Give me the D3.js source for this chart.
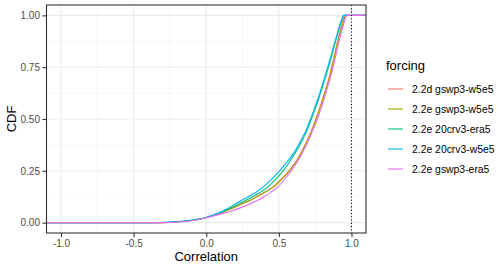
<!DOCTYPE html>
<html><head><meta charset="utf-8">
<script src="https://cdn.jsdelivr.net/npm/d3@7"></script>
<style>body{margin:0;background:#fff}svg{display:block;font-family:"Liberation Sans",Arial,sans-serif}</style>
</head><body><svg id="c" width="500" height="267"></svg>
<script>
// ---- data ----
const series = ["2.2d gswp3-w5e5","2.2e gswp3-w5e5","2.2e 20crv3-era5","2.2e 20crv3-w5e5","2.2e gswp3-era5"];
const colors = ["#F8766D","#A3A500","#00BF7D","#00B0F6","#E76BF3"];
// ECDF knots: cdf levels and the correlation at each level, per series
const cdfLevels  = [0,0.003,0.008,0.015,0.025,0.04,0.055,0.07,0.09,0.118,0.145,0.17,0.21,0.25,0.3,0.35,0.4,0.45,0.5,0.55,0.6,0.7,0.8,0.9,0.95,0.98,1];
const corr_red   = [-0.31,-0.21,-0.13,-0.06,0.0,0.07,0.13,0.18,0.243,0.328,0.398,0.457,0.517,0.57,0.622,0.662,0.698,0.728,0.755,0.78,0.803,0.846,0.88,0.913,0.933,0.946,0.96];
const corr_olive = [-0.30,-0.21,-0.13,-0.06,0.0,0.07,0.13,0.18,0.245,0.33,0.40,0.46,0.52,0.572,0.625,0.665,0.70,0.73,0.757,0.782,0.805,0.848,0.882,0.915,0.935,0.948,0.962];
const corr_green = [-0.33,-0.23,-0.14,-0.07,0.0,0.065,0.12,0.165,0.225,0.30,0.37,0.42,0.48,0.53,0.58,0.625,0.663,0.697,0.724,0.75,0.775,0.82,0.862,0.90,0.922,0.936,0.95];
const corr_blue  = [-0.37,-0.25,-0.15,-0.08,0.0,0.06,0.11,0.15,0.20,0.27,0.34,0.39,0.45,0.505,0.565,0.615,0.655,0.69,0.718,0.745,0.77,0.815,0.857,0.897,0.918,0.932,0.945];
const corr_pink  = [-0.28,-0.19,-0.11,-0.05,0.01,0.09,0.17,0.23,0.30,0.38,0.44,0.49,0.54,0.585,0.632,0.672,0.706,0.737,0.765,0.79,0.812,0.855,0.89,0.923,0.943,0.956,0.968];
const corrs = [corr_red,corr_olive,corr_green,corr_blue,corr_pink];
const xTicks = [-1,-0.5,0,0.5,1];
const xTickLabels = ["-1.0","-0.5","0.0","0.5","1.0"];
const yTicks = [0,0.25,0.5,0.75,1];
const yTickLabels = ["0.00","0.25","0.50","0.75","1.00"];
const vlineX = 1;

// ---- layout ----
const svg = d3.select("#c");
const P = {l:46.5, r:366, t:5, b:233};
const x = d3.scaleLinear().domain([-1.1,1.1]).range([P.l,P.r]);
const y = d3.scaleLinear().domain([-0.05,1.05]).range([P.b,P.t]);

// grid
const g = svg.append("g");
const xMinor = xTicks.slice(0,-1).map((v,i)=>(v+xTicks[i+1])/2);
const yMinor = yTicks.slice(0,-1).map((v,i)=>(v+yTicks[i+1])/2);
g.selectAll(".xm").data(xMinor).enter().append("line")
 .attr("x1",d=>x(d)).attr("x2",d=>x(d)).attr("y1",P.t).attr("y2",P.b)
 .attr("stroke","#f2f2f2").attr("stroke-width",0.6);
g.selectAll(".ym").data(yMinor).enter().append("line")
 .attr("y1",d=>y(d)).attr("y2",d=>y(d)).attr("x1",P.l).attr("x2",P.r)
 .attr("stroke","#f2f2f2").attr("stroke-width",0.6);
g.selectAll(".xM").data(xTicks).enter().append("line")
 .attr("x1",d=>x(d)).attr("x2",d=>x(d)).attr("y1",P.t).attr("y2",P.b)
 .attr("stroke","#ebebeb").attr("stroke-width",1.1);
g.selectAll(".yM").data(yTicks).enter().append("line")
 .attr("y1",d=>y(d)).attr("y2",d=>y(d)).attr("x1",P.l).attr("x2",P.r)
 .attr("stroke","#ebebeb").attr("stroke-width",1.1);

// curves (ecdf runs from -Inf at 0 to +Inf at 1)
const line = d3.line().x(d=>x(d[0])).y(d=>y(d[1])).curve(d3.curveMonotoneX);
series.forEach((s,i)=>{
  const pts = [[x.domain()[0],0]];
  cdfLevels.forEach((c,j)=>pts.push([corrs[i][j],c]));
  pts.push([x.domain()[1],1]);
  svg.append("path").attr("d",line(pts)).attr("fill","none")
    .attr("stroke",colors[i]).attr("stroke-width",1.1);
});

// vline
svg.append("line").attr("x1",x(vlineX)).attr("x2",x(vlineX)).attr("y1",P.t).attr("y2",P.b)
 .attr("stroke","#000").attr("stroke-width",1.1).attr("stroke-dasharray","1.1,2.2");

// border
svg.append("rect").attr("x",P.l).attr("y",P.t).attr("width",P.r-P.l).attr("height",P.b-P.t)
 .attr("fill","none").attr("stroke","#333").attr("stroke-width",1.1);

// axes
const xa = svg.append("g").attr("transform",`translate(0,${P.b})`)
 .call(d3.axisBottom(x).tickValues(xTicks).tickFormat((d,i)=>xTickLabels[i]).tickSize(4).tickPadding(2.5));
const ya = svg.append("g").attr("transform",`translate(${P.l},0)`)
 .call(d3.axisLeft(y).tickValues(yTicks).tickFormat((d,i)=>yTickLabels[i]).tickSize(4).tickPadding(2.5));
[xa,ya].forEach(a=>{
  a.select(".domain").remove();
  a.selectAll(".tick line").attr("stroke","#333").attr("stroke-width",1.1);
  a.selectAll(".tick text").attr("fill","#4d4d4d").style("font-size","10px").style("font-family","Liberation Sans, Arial, sans-serif");
});

// axis titles
svg.append("text").attr("x",(P.l+P.r)/2).attr("y",261).attr("text-anchor","middle")
 .style("font-size","13px").attr("fill","#000").text("Correlation");
svg.append("text").attr("transform",`translate(16,${(P.t+P.b)/2}) rotate(-90)`).attr("text-anchor","middle")
 .style("font-size","13px").attr("fill","#000").text("CDF");

// legend
const L = svg.append("g");
L.append("text").attr("x",386).attr("y",70).style("font-size","13px").attr("fill","#000").text("forcing");
series.forEach((s,i)=>{
  const yy = 89 + i*20;
  L.append("line").attr("x1",388).attr("x2",403).attr("y1",yy).attr("y2",yy)
   .attr("stroke",colors[i]).attr("stroke-width",1.1);
  L.append("text").attr("x",412).attr("y",yy+3.6).style("font-size","10.4px").attr("fill","#000").text(s);
});
</script></body></html>
